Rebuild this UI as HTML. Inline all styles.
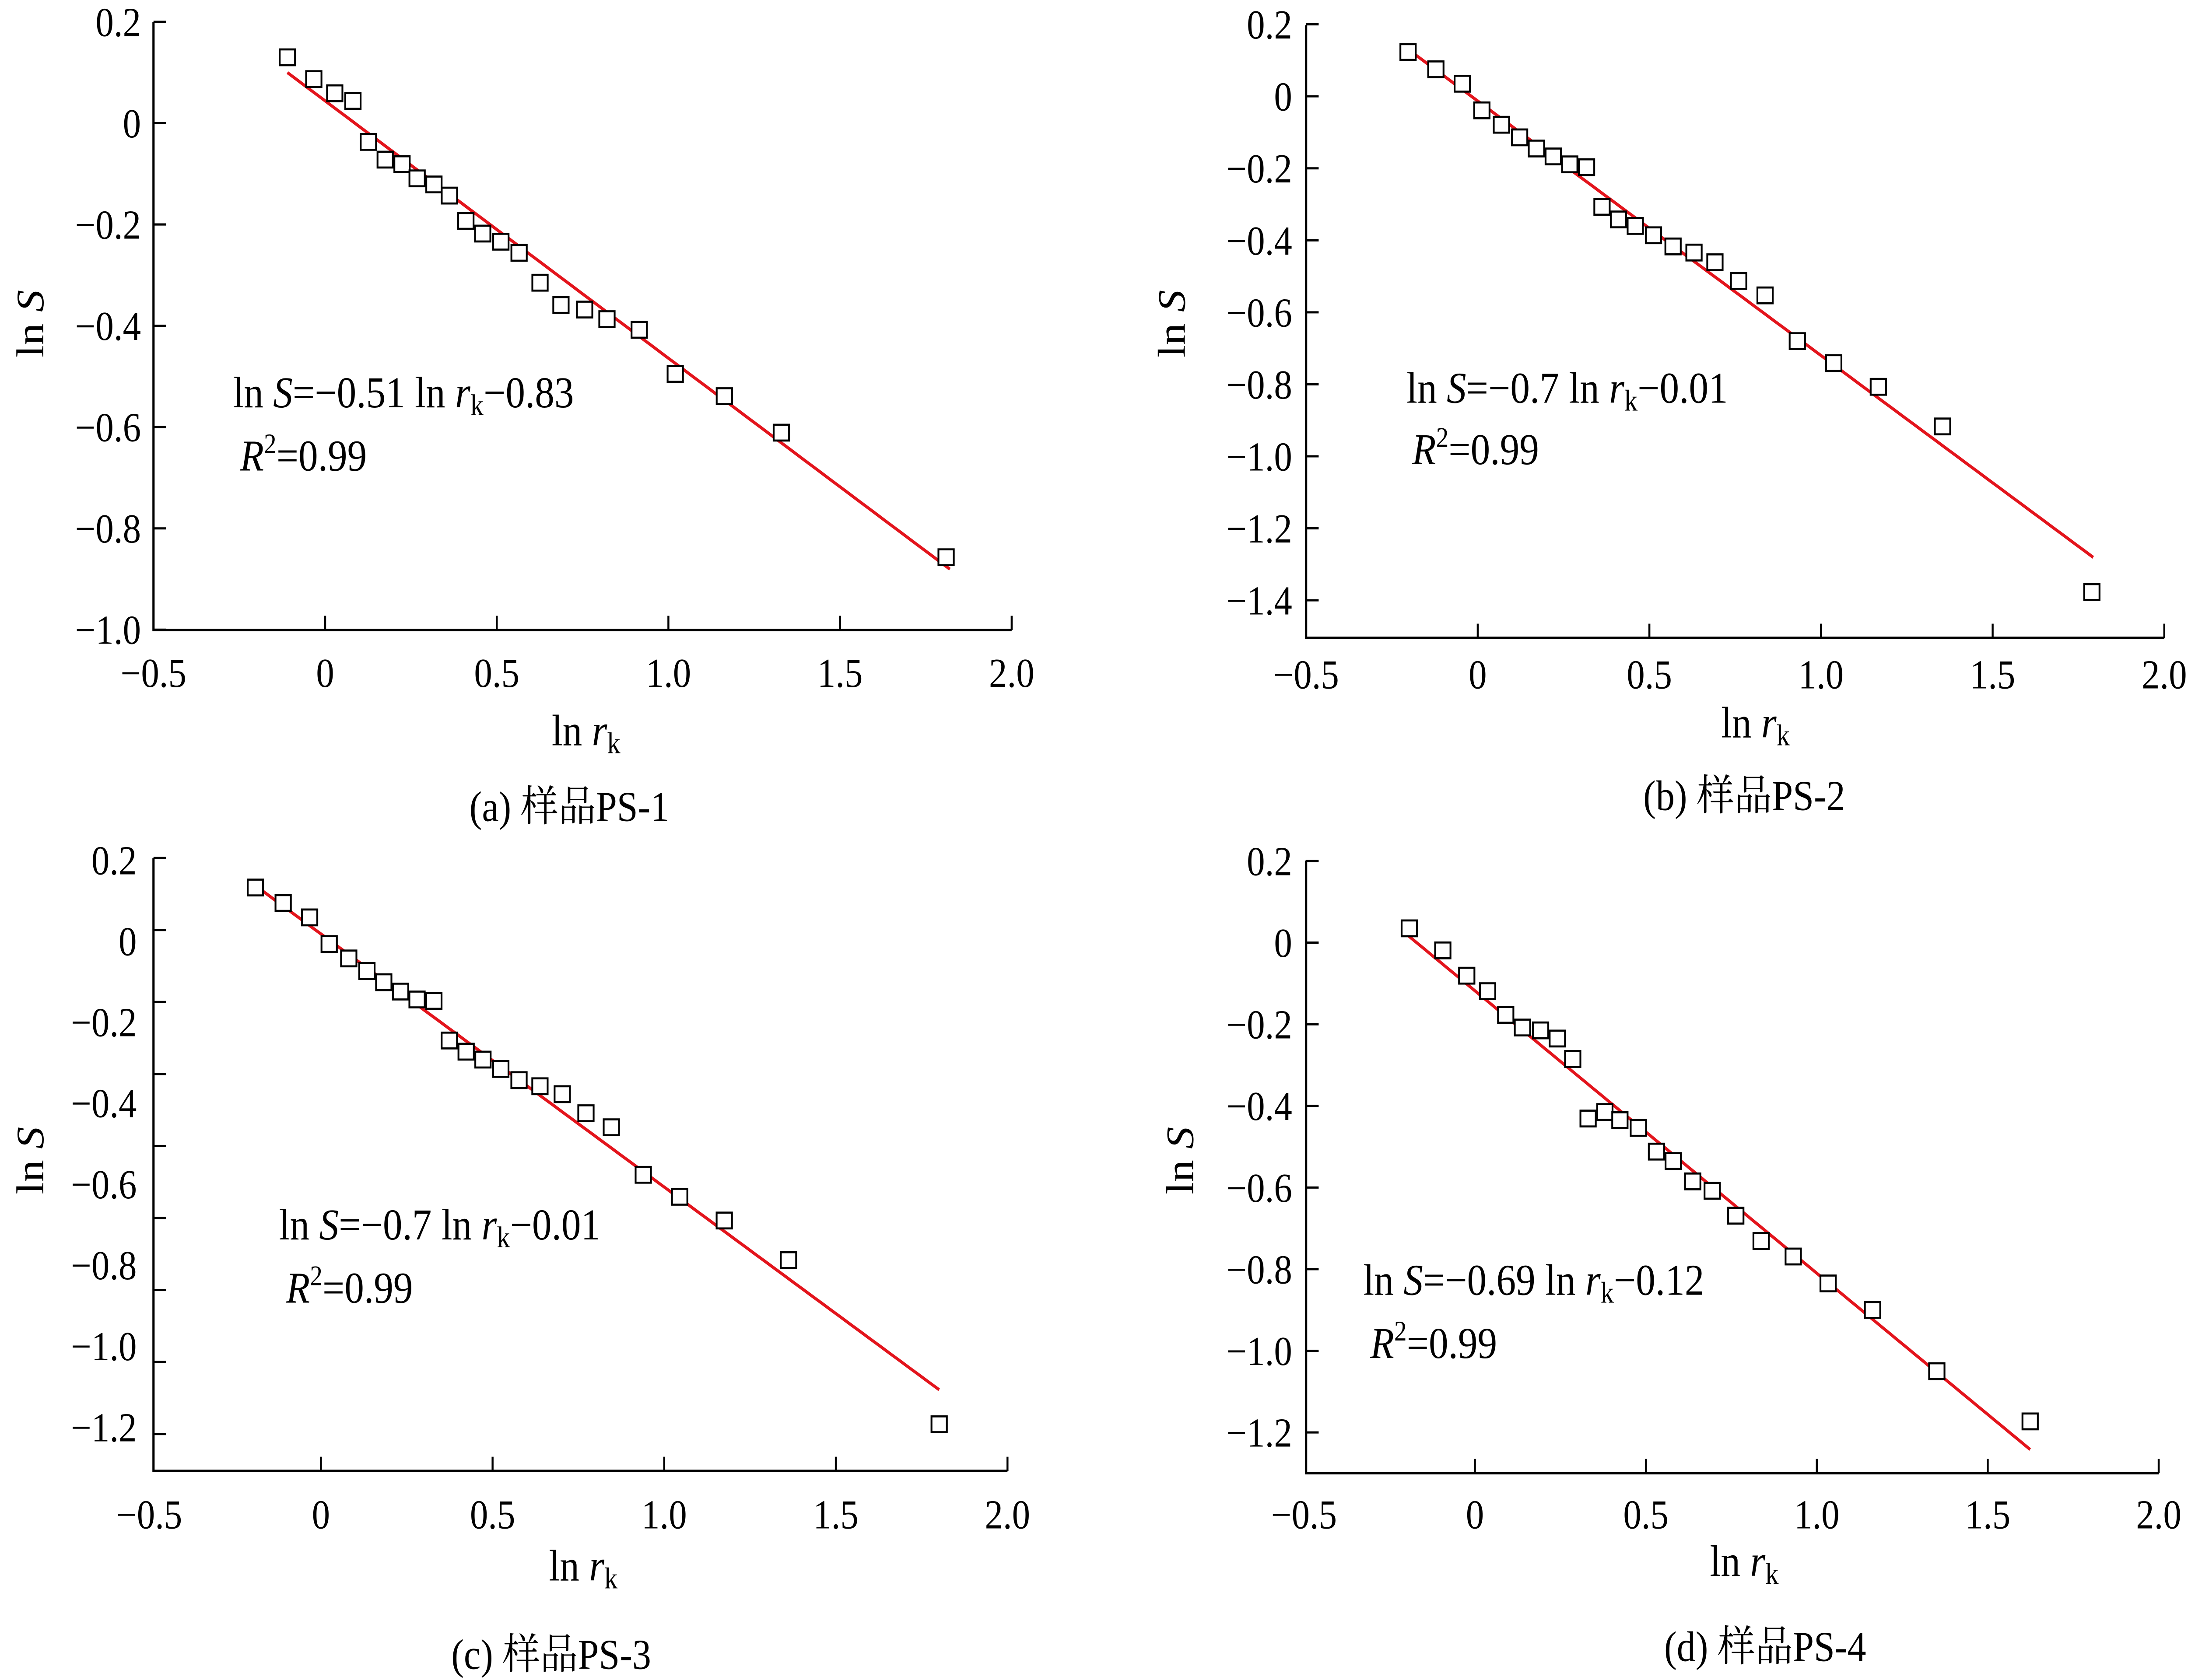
<!DOCTYPE html>
<html><head><meta charset="utf-8">
<style>
html,body{margin:0;padding:0;background:#fff;width:100%;height:100%;overflow:hidden;}
svg{display:block;position:fixed;left:0;top:0;width:100vw;height:100vh;}
text{font-family:"Liberation Serif","Noto Serif CJK SC","Noto Sans CJK SC",serif;fill:#000;}
</style></head>
<body>
<svg xmlns="http://www.w3.org/2000/svg" viewBox="0 0 1568 1064" preserveAspectRatio="none">
<rect width="1568" height="1064" fill="#fff"/>
<g id="chart"></g>
</svg>
<script>
// ---- data ----
const xA=[-0.11,-0.033,0.028,0.081,0.126,0.175,0.224,0.268,0.317,0.362,0.41,0.459,0.512,0.565,0.626,0.687,0.756,0.821,0.915,1.02,1.163,1.329,1.809];
const yA=[0.13,0.087,0.059,0.044,-0.037,-0.072,-0.081,-0.109,-0.121,-0.143,-0.193,-0.218,-0.234,-0.256,-0.315,-0.359,-0.368,-0.387,-0.408,-0.495,-0.539,-0.611,-0.857];
const xB=[-0.203,-0.122,-0.045,0.012,0.069,0.122,0.171,0.22,0.268,0.317,0.362,0.41,0.459,0.512,0.569,0.63,0.691,0.76,0.837,0.931,1.037,1.167,1.354,1.789];
const yB=[0.123,0.075,0.035,-0.039,-0.079,-0.114,-0.145,-0.167,-0.189,-0.197,-0.307,-0.342,-0.36,-0.386,-0.417,-0.434,-0.461,-0.513,-0.553,-0.68,-0.741,-0.807,-0.917,-1.377];
const xC=[-0.191,-0.11,-0.033,0.024,0.081,0.134,0.183,0.232,0.28,0.329,0.374,0.423,0.472,0.524,0.577,0.638,0.703,0.772,0.846,0.939,1.045,1.175,1.362,1.801];
const yC=[0.118,0.075,0.035,-0.039,-0.079,-0.114,-0.145,-0.171,-0.193,-0.197,-0.307,-0.338,-0.36,-0.386,-0.417,-0.434,-0.456,-0.509,-0.548,-0.68,-0.741,-0.807,-0.917,-1.373];
const xD=[-0.192,-0.094,-0.024,0.037,0.09,0.139,0.192,0.241,0.286,0.331,0.38,0.424,0.478,0.531,0.58,0.637,0.694,0.763,0.837,0.931,1.033,1.163,1.351,1.624];
const yD=[0.035,-0.019,-0.081,-0.119,-0.177,-0.208,-0.215,-0.235,-0.285,-0.431,-0.415,-0.435,-0.454,-0.512,-0.535,-0.585,-0.608,-0.669,-0.731,-0.769,-0.835,-0.9,-1.05,-1.173];
const fitSlope=[-0.508,-0.707,-0.703,-0.692];
const fitIntercept=[0.044,-0.013,-0.011,-0.118];
const fitXStart=[-0.11,-0.211,-0.191,-0.204];
const fitXEnd=[1.82,1.793,1.801,1.624];
const xTickLabels=["−0.5","0","0.5","1.0","1.5","2.0"];
const xTickVals=[-0.5,0,0.5,1.0,1.5,2.0];
const yTicksA=[0.2,0,-0.2,-0.4,-0.6,-0.8,-1.0];
const yTicksB=[0.2,0,-0.2,-0.4,-0.6,-0.8,-1.0,-1.2,-1.4];
const yTicksC=[0.2,0,-0.2,-0.4,-0.6,-0.8,-1.0,-1.2,-1.4];
const yLabelsC=[0.2,0,-0.2,-0.4,-0.6,-0.8,-1.0,-1.2];
const yTicksD=[0.2,0,-0.2,-0.4,-0.6,-0.8,-1.0,-1.2];
const eqSlopeText=["−0.51","−0.7","−0.7","−0.69"];
const eqInterText=["−0.83","−0.01","−0.01","−0.12"];
const captions=["(a)  样品PS-1","(b)  样品PS-2","(c)  样品PS-3","(d)  样品PS-4"];

// ---- layout ----
const NS="http://www.w3.org/2000/svg";
const svg=document.getElementById('chart');
function mk(tag,attrs,parent){const e=document.createElementNS(NS,tag);for(const k in attrs)e.setAttribute(k,attrs[k]);(parent||svg).appendChild(e);return e;}
function fmt(v){if(v===0)return "0";return (v<0?"−":"")+Math.abs(v).toFixed(1);}

const panels=[
 {xs:xA,ys:yA,yt:yTicksA,yl:yTicksA,x0:233,xu:246,y0:78,yu:320.8,L:110,R:725,T:14,B:399,ylabY0:78,ylabU:320.8,labR:101,xlabBase:435,
  ytitle:[22,205],eq:[167,258],r2:[172,298],xt:[420,472],cap:[408,520]},
 {xs:xB,ys:yB,yt:yTicksB,yl:yTicksB,x0:1059,xu:246,y0:61,yu:228,L:936,R:1551,T:16,B:404,ylabY0:61,ylabU:228,labR:926,xlabBase:436,
  ytitle:[840,205],eq:[1008,255],r2:[1012,294],xt:[1258,467],cap:[1250,513]},
 {xs:xC,ys:yC,yt:yTicksC,yl:yLabelsC,x0:230,xu:246,y0:589,yu:228,L:110,R:722,T:543.5,B:931.6,ylabY0:596,ylabU:256.5,labR:98,xlabBase:968,
  ytitle:[22,735],eq:[200,785],r2:[205,825],xt:[418,1001],cap:[395,1057]},
 {xs:xD,ys:yD,yt:yTicksD,yl:yTicksD,x0:1057,xu:245,y0:597,yu:258.5,L:936,R:1547,T:545,B:933,ylabY0:597,ylabU:258.5,labR:926,xlabBase:968,
  ytitle:[846,735],eq:[977,820],r2:[982,860],xt:[1250,998],cap:[1265,1052]}
];
const ids=['a','b','c','d'];

panels.forEach((p,i)=>{
  const g=mk('g',{});
  
  
  const sx=v=>p.x0+v*p.xu, sy=v=>p.y0-v*p.yu;
  const ax=mk('path',{d:`M${p.L},${p.T}L${p.L},${p.B}L${p.R},${p.B}`,fill:'none',stroke:'#000','stroke-width':1.6},g);
  
  
  p.yt.forEach(v=>{const t=mk('line',{x1:p.L,x2:p.L+9,y1:sy(v),y2:sy(v),stroke:'#000','stroke-width':1.4},g);
    
    });
  p.yl.forEach(v=>{const t=mk('text',{x:p.labR,y:p.ylabY0-v*p.ylabU+9,'text-anchor':'end','font-size':26},g);t.textContent=fmt(v);
    
    });
  xTickVals.forEach((v,k)=>{const x=sx(v);
    if(x>p.L+2){const t=mk('line',{x1:x,x2:x,y1:p.B,y2:p.B-9,stroke:'#000','stroke-width':1.4},g);
      
      }
    const l=mk('text',{x:x,y:p.xlabBase,'text-anchor':'middle','font-size':26},g);l.textContent=xTickLabels[k];
    
    });
  const fl=mk('line',{x1:sx(fitXStart[i]),y1:sy(fitSlope[i]*fitXStart[i]+fitIntercept[i]),x2:sx(fitXEnd[i]),y2:sy(fitSlope[i]*fitXEnd[i]+fitIntercept[i]),stroke:'#e3141c','stroke-width':2},g);
  
  
  p.xs.forEach((xv,k)=>{const r=mk('rect',{x:sx(xv)-5.5,y:sy(p.ys[k])-5,width:11,height:10,fill:'#fff',stroke:'#000','stroke-width':1.3},g);
    
    });
  const yt=mk('text',{x:p.ytitle[0],y:p.ytitle[1],'font-size':28,'text-anchor':'middle',transform:`rotate(-90 ${p.ytitle[0]} ${p.ytitle[1]})`,dy:9},g);
  yt.innerHTML='ln <tspan font-style="italic">S</tspan>';
  
  
  const xt=mk('text',{x:p.xt[0],y:p.xt[1],'font-size':28,'text-anchor':'middle'},g);
  xt.innerHTML='ln <tspan font-style="italic">r</tspan><tspan font-size="19" dy="5">k</tspan>';
  
  
  const eq=mk('text',{x:p.eq[0],y:p.eq[1],'font-size':28},g);
  eq.innerHTML='ln <tspan font-style="italic">S</tspan>='+eqSlopeText[i]+' ln <tspan font-style="italic">r</tspan><tspan font-size="19" dy="5">k</tspan><tspan dy="-5">'+eqInterText[i]+'</tspan>';
  
  
  const r2=mk('text',{x:p.r2[0],y:p.r2[1],'font-size':28},g);
  r2.innerHTML='<tspan font-style="italic">R</tspan><tspan font-size="18" dy="-11">2</tspan><tspan dy="11">=0.99</tspan>';
  
  
  const cp=mk('text',{x:p.cap[0],y:p.cap[1],'font-size':27,'text-anchor':'middle'},g);
  cp.textContent=captions[i];
  
  
});
</script>
</body></html>
